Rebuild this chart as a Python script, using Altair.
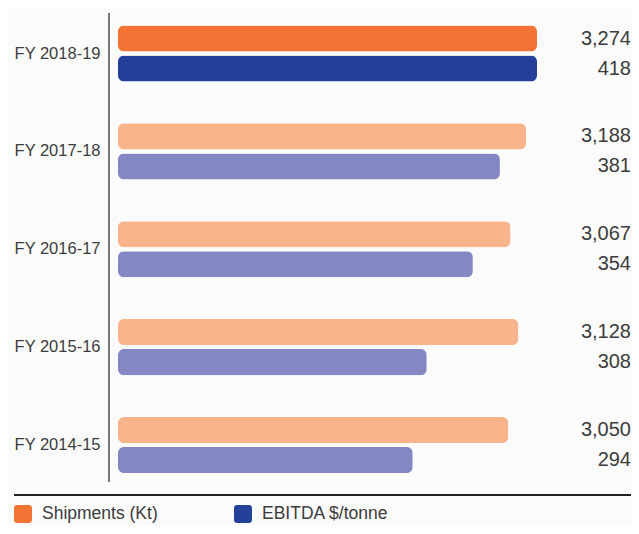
import altair as alt
import pandas as pd

years = ["FY 2018-19", "FY 2017-18", "FY 2016-17", "FY 2015-16", "FY 2014-15"]
shipments = [3274, 3188, 3067, 3128, 3050]
ebitda = [418, 381, 354, 308, 294]
series = ["Shipments (Kt)", "EBITDA $/tonne"]
highlight_year = "FY 2018-19"

color_keys = ["Shipments (Kt)", "EBITDA $/tonne", "Shipments (Kt) prior", "EBITDA $/tonne prior"]
color_range = ["#F37335", "#24419A", "#F9B48C", "#8388C4"]

rows = []
for y, s, e in zip(years, shipments, ebitda):
    for name, v in zip(series, [s, e]):
        rows.append({
            "year": y,
            "series": name,
            "value": v,
            "label": f"{v:,}",
            "ck": name if y == highlight_year else name + " prior",
        })
df = pd.DataFrame(rows)

W = 513
H = 482.5
FONT = "Liberation Sans"
TXT = "#3c3c3c"

y_enc = alt.Y("year:N", sort=years,
              scale=alt.Scale(paddingInner=0.07, paddingOuter=0),
              axis=alt.Axis(title=None, domain=False, ticks=False, labelPadding=18,
                            labelFontSize=16.5, labelFont=FONT, labelColor=TXT,
                            labelFontWeight="normal"))
yoff = alt.YOffset("series:N", sort=series,
                   scale=alt.Scale(paddingInner=4 / 30, paddingOuter=0.5833))

color = alt.Color("ck:N",
                  scale=alt.Scale(domain=color_keys, range=color_range),
                  legend=alt.Legend(
                      title=None, values=series, orient="none",
                      legendX=-104, legendY=497, direction="horizontal",
                      symbolType="M-0.65,-1H0.65Q1,-1 1,-0.65V0.65Q1,1 0.65,1H-0.65Q-1,1 -1,0.65V-0.65Q-1,-1 -0.65,-1Z",
                      symbolSize=324, symbolStrokeWidth=0, symbolOpacity=1,
                      labelFontSize=17.5, labelFont=FONT, labelColor=TXT,
                      labelOffset=10, columnPadding=76))

base = alt.Chart(df)

ship_bars = base.transform_filter(alt.datum.series == series[0]).mark_bar(
    cornerRadius=6).encode(
    x=alt.X("value:Q", scale=alt.Scale(domain=[0, 3274 * W / 419], nice=False), axis=None),
    y=y_enc, yOffset=yoff, color=color)

ebit_bars = base.transform_filter(alt.datum.series == series[1]).mark_bar(
    cornerRadius=6).encode(
    x=alt.X("value:Q", scale=alt.Scale(domain=[0, 418 * W / 419], nice=False), axis=None),
    y=y_enc, yOffset=yoff, color=color)

labels = base.mark_text(align="right", baseline="middle", fontSize=20,
                        font=FONT, color=TXT).encode(
    x=alt.value(W), y=y_enc, yOffset=yoff, text="label:N")

vline = alt.Chart(pd.DataFrame({"a": [0]})).mark_rule(color="#333333", strokeWidth=1.3).encode(
    x=alt.value(-9), y=alt.value(5), y2=alt.value(474))
hline = alt.Chart(pd.DataFrame({"a": [0]})).mark_rule(color="#222222", strokeWidth=2).encode(
    x=alt.value(-104), x2=alt.value(W), y=alt.value(487))

chart = alt.layer(ship_bars, ebit_bars, labels, vline, hline).resolve_scale(
    x="independent").properties(
    width=W, height=H,
    autosize=alt.AutoSizeParams(type="none"),
    padding={"left": 110, "top": 0, "right": 0, "bottom": 35},
    background="#fbfbfb",
).configure_view(stroke=None)

chart.save("out.html", embed_options={"renderer": "svg", "actions": False})
